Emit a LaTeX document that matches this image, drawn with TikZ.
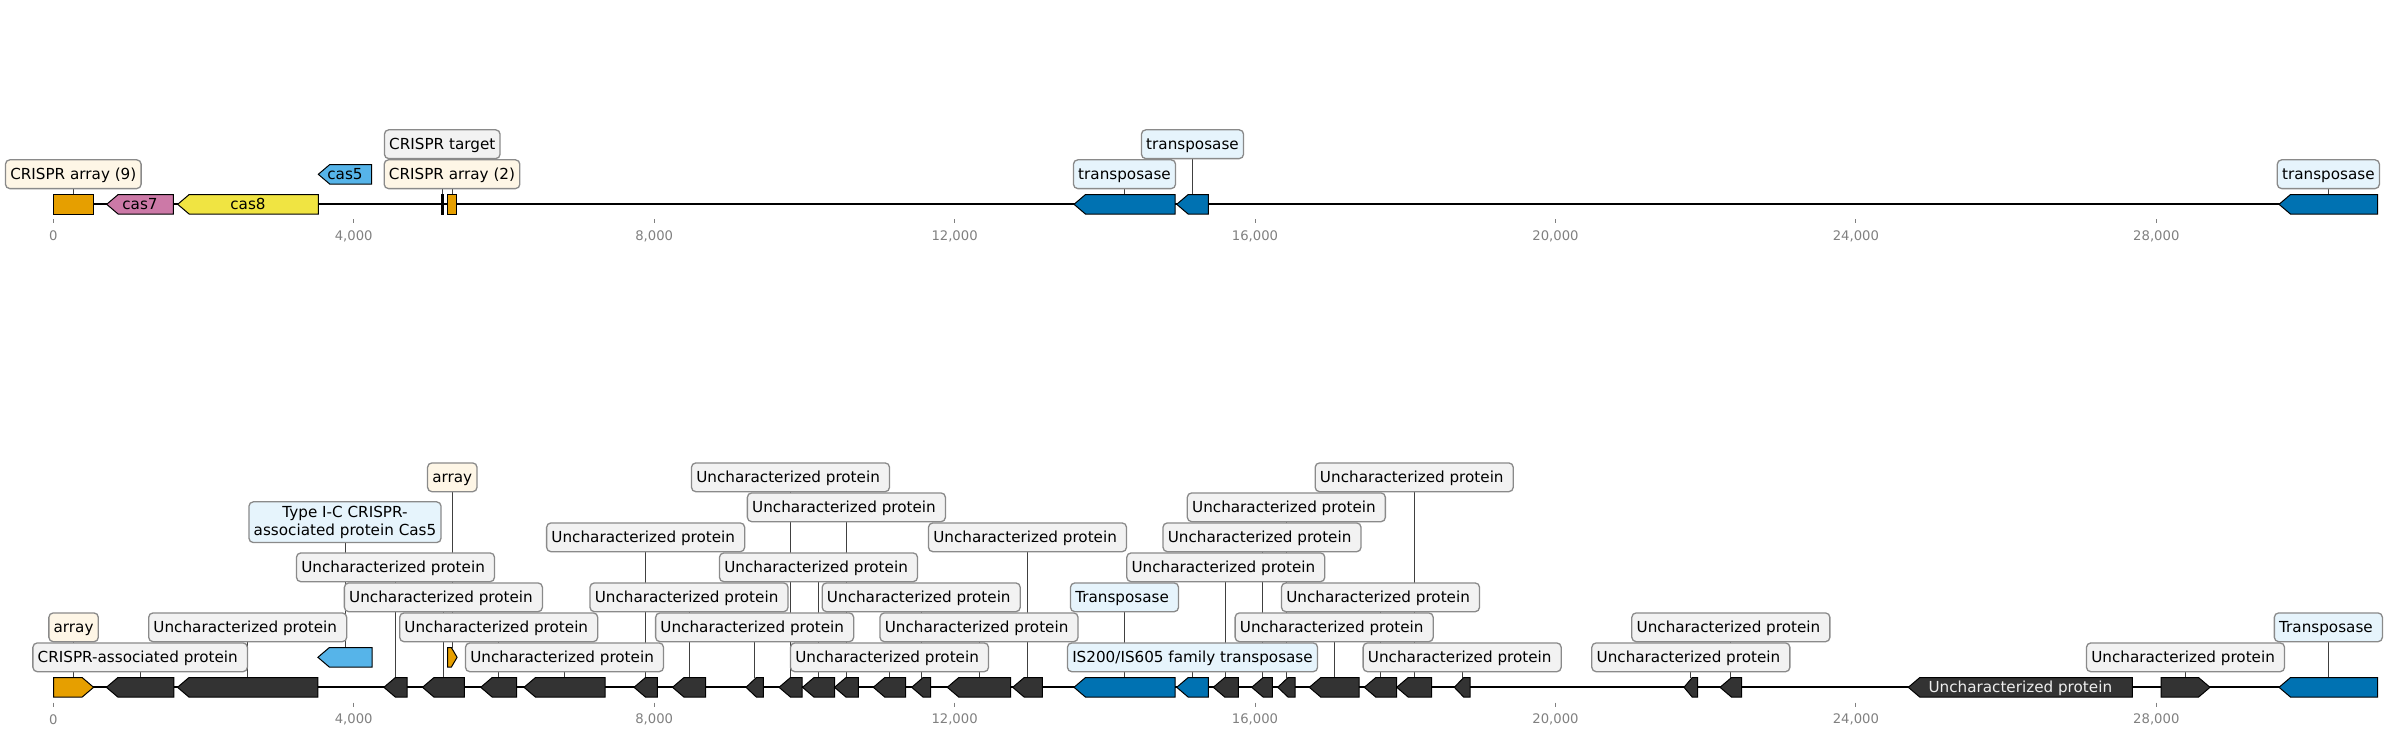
\documentclass[tikz,border=0pt]{standalone}
\usepackage{fontspec}
\setmainfont{DejaVu Sans}
\pgfdeclarelayer{bg}
\pgfsetlayers{bg,main}
\definecolor{corange}{HTML}{E69F00}
\definecolor{cpink}{HTML}{CC79A7}
\definecolor{cyellow}{HTML}{F0E442}
\definecolor{csky}{HTML}{56B4E9}
\definecolor{cblue}{HTML}{0072B2}
\definecolor{cdark}{HTML}{333333}
\definecolor{fcream}{HTML}{FEF6E6}
\definecolor{fblue}{HTML}{E6F4FC}
\definecolor{fgray}{HTML}{F2F2F2}
\definecolor{edgegray}{HTML}{8A8A8A}
\definecolor{tickgray}{HTML}{808080}
\definecolor{conngray}{HTML}{404040}
\definecolor{inwhite}{HTML}{EEEEEE}
\newcommand\labfont{\fontsize{7.6pt}{8.75pt}\selectfont}
\newcommand\tickfont{\fontsize{6.6pt}{7.9pt}\selectfont}
\newcommand\UP{Uncharacterized protein\kern0.318em}
\newcommand\geneL[5]{%
  \pgfmathsetmacro\ghl{min(11.5,0.6*(#3-#2))}%
  \draw[genebody,fill=#5] (#2,#4) -- ({#2+\ghl},{#4-9.8}) -- (#3,{#4-9.8}) -- (#3,{#4+9.8}) -- ({#2+\ghl},{#4+9.8}) -- cycle;
  \coordinate (#1) at ({(#2+#3)/2},{#4-9.8});}
\newcommand\geneR[5]{%
  \pgfmathsetmacro\ghl{min(11.5,0.6*(#3-#2))}%
  \draw[genebody,fill=#5] (#2,{#4-9.8}) -- ({#3-\ghl},{#4-9.8}) -- (#3,#4) -- ({#3-\ghl},{#4+9.8}) -- (#2,{#4+9.8}) -- cycle;
  \coordinate (#1) at ({(#2+#3)/2},{#4-9.8});}
\newcommand\geneN[5]{%
  \draw[genebody,fill=#5] (#2,{#4-9.8}) rectangle (#3,{#4+9.8});
  \coordinate (#1) at ({(#2+#3)/2},{#4-9.8});}
\newcommand\lab[5]{%
  \node[labbox,fill=#4] (#1) at (#2 |- 0,#3) {#5};
  \begin{pgfonlayer}{bg}\draw[conn] (#1.south) -- (#2);\end{pgfonlayer}}
\begin{document}
\begin{tikzpicture}[x=0.5pt,y=-0.5pt,
  genebody/.style={draw=black,line width=0.5pt,line join=miter},
  labcore/.style={draw=edgegray,line width=0.65pt,rounded corners=2.2pt,inner xsep=2.4pt,inner ysep=2.2pt,font=\labfont,text=black},
  labbox/.style={labcore,text height=0.76em,text depth=0.24em},
  conn/.style={draw=conngray,line width=0.5pt},
  track/.style={draw=black,line width=1.1pt},
  tickmark/.style={draw=tickgray,line width=0.5pt},
  ticklab/.style={font=\tickfont,text=tickgray,inner sep=0pt},
  inlab/.style={font=\labfont,inner sep=0pt,text height=0.76em,text depth=0.24em}]
\useasboundingbox (0,0) rectangle (2388,736);
% ---------------- top track ----------------
\coordinate (tl0) at (53.3,204.3);
\coordinate (tl1) at (2377.7,204.3);
\draw[track] (tl0) -- (tl1);
\geneN{tA}{53.3}{93.3}{204.3}{corange}
\geneL{tB}{106.7}{173.3}{204.3}{cpink}
\geneL{tC}{177.7}{318.3}{204.3}{cyellow}
\geneL{tD}{318.3}{371.7}{174.3}{csky}
\geneN{tE}{441}{443.5}{204.3}{black}
\geneN{tF}{447.3}{456.7}{204.3}{corange}
\geneL{tG}{1074}{1175}{204.3}{cblue}
\geneL{tH}{1176.7}{1208.3}{204.3}{cblue}
\geneL{tI}{2279}{2377.7}{204.3}{cblue}
\node[inlab] (icas7) at (140,204.3) {cas7};
\node[inlab] (icas8) at (248,204.3) {cas8};
\node[inlab] (icas5) at (345,174.3) {cas5};
\lab{ltA}{tA}{174.2}{fcream}{CRISPR array (9)}
\lab{ltE}{tE}{144.2}{fgray}{CRISPR target}
\lab{ltF}{tF}{174.2}{fcream}{CRISPR array (2)}
\lab{ltG}{tG}{174.2}{fblue}{transposase}
\lab{ltH}{tH}{144.2}{fblue}{transposase}
\lab{ltI}{tI}{174.2}{fblue}{transposase}
\foreach \k/\t in {0/0,1/{4,000},2/{8,000},3/{12,000},4/{16,000},5/{20,000},6/{24,000},7/{28,000}}{
  \draw[tickmark] ({53.3+300.43*\k},219.3) -- ({53.3+300.43*\k},223.3);
  \node[ticklab] (tt\k) at ({53.3+300.43*\k},236) {\t};
  \draw[tickmark] ({53.3+300.43*\k},702.7) -- ({53.3+300.43*\k},706.7);
  \node[ticklab] (bt\k) at ({53.3+300.43*\k},719.3) {\t};
}
% ---------------- bottom track ----------------
\coordinate (bl0) at (53.3,687.3);
\coordinate (bl1) at (2377.7,687.3);
\draw[track] (bl0) -- (bl1);
\geneR{bA}{53.6}{93.6}{687.3}{corange}
\geneL{bB}{106.4}{173.9}{687.3}{cdark}
\geneL{bC}{177.5}{317.9}{687.3}{cdark}
\geneL{bD}{317.9}{372.1}{657.3}{csky}
\geneL{bE}{383.9}{407.1}{687.3}{cdark}
\geneL{bF}{422.5}{464.3}{687.3}{cdark}
\geneR{bG}{447.5}{457.1}{657.3}{corange}
\geneL{bH}{480.7}{516.7}{687.3}{cdark}
\geneL{bI}{524}{605}{687.3}{cdark}
\geneL{bJ}{634}{657.3}{687.3}{cdark}
\geneL{bK}{672.5}{705.5}{687.3}{cdark}
\geneL{bL}{746}{763.3}{687.3}{cdark}
\geneL{bM}{779}{802}{687.3}{cdark}
\geneL{bN}{802.5}{834.5}{687.3}{cdark}
\geneL{bO}{834.5}{858.3}{687.3}{cdark}
\geneL{bP}{873.3}{905.7}{687.3}{cdark}
\geneL{bQ}{911.7}{930.7}{687.3}{cdark}
\geneL{bR}{947.3}{1010.7}{687.3}{cdark}
\geneL{bS}{1012.7}{1042.3}{687.3}{cdark}
\geneL{bT}{1074}{1175}{687.3}{cblue}
\geneL{bU}{1176.7}{1208.3}{687.3}{cblue}
\geneL{bV}{1213.3}{1238.3}{687.3}{cdark}
\geneL{bW}{1251.7}{1272.3}{687.3}{cdark}
\geneL{bX}{1277.7}{1295}{687.3}{cdark}
\geneL{bY}{1309.3}{1359}{687.3}{cdark}
\geneL{bZ}{1364.3}{1396.7}{687.3}{cdark}
\geneL{bAA}{1396.7}{1431.7}{687.3}{cdark}
\geneL{bAB}{1454.3}{1470}{687.3}{cdark}
\geneL{bAC}{1684}{1697.7}{687.3}{cdark}
\geneL{bAD}{1720}{1741.7}{687.3}{cdark}
\geneL{bAE}{1908.3}{2132.3}{687.3}{cdark}
\geneR{bAF}{2161}{2210}{687.3}{cdark}
\geneL{bAG}{2279}{2377.7}{687.3}{cblue}
\node[inlab,text=inwhite] (ibAE) at (2020.3,687.3) {Uncharacterized protein};
\lab{lbA}{bA}{627.3}{fcream}{array}
\lab{lbB}{bB}{657.3}{fgray}{CRISPR-associated protein\kern0.318em}
\lab{lbC}{bC}{627.3}{fgray}{\UP}
\node[labcore,align=center,fill=fblue] (lbD) at (bD |- 0,522.2) {Type I-C CRISPR-\\associated protein Cas5};
\begin{pgfonlayer}{bg}\draw[conn] (lbD.south) -- (bD);\end{pgfonlayer}
\lab{lbE}{bE}{567.3}{fgray}{\UP}
\lab{lbF}{bF}{597.3}{fgray}{\UP}
\lab{lbG}{bG}{477.3}{fcream}{array}
\lab{lbH}{bH}{627.3}{fgray}{\UP}
\lab{lbI}{bI}{657.3}{fgray}{\UP}
\lab{lbJ}{bJ}{537.3}{fgray}{\UP}
\lab{lbK}{bK}{597.3}{fgray}{\UP}
\lab{lbL}{bL}{627.3}{fgray}{\UP}
\lab{lbM}{bM}{477.3}{fgray}{\UP}
\lab{lbN}{bN}{567.3}{fgray}{\UP}
\lab{lbO}{bO}{507.3}{fgray}{\UP}
\lab{lbP}{bP}{657.3}{fgray}{\UP}
\lab{lbQ}{bQ}{597.3}{fgray}{\UP}
\lab{lbR}{bR}{627.3}{fgray}{\UP}
\lab{lbS}{bS}{537.3}{fgray}{\UP}
\lab{lbT}{bT}{597.3}{fblue}{Transposase\kern0.318em}
\lab{lbU}{bU}{657.3}{fblue}{IS200/IS605 family transposase}
\lab{lbV}{bV}{567.3}{fgray}{\UP}
\lab{lbW}{bW}{537.3}{fgray}{\UP}
\lab{lbX}{bX}{507.3}{fgray}{\UP}
\lab{lbY}{bY}{627.3}{fgray}{\UP}
\lab{lbZ}{bZ}{597.3}{fgray}{\UP}
\lab{lbAA}{bAA}{477.3}{fgray}{\UP}
\lab{lbAB}{bAB}{657.3}{fgray}{\UP}
\lab{lbAC}{bAC}{657.3}{fgray}{\UP}
\lab{lbAD}{bAD}{627.3}{fgray}{\UP}
\lab{lbAF}{bAF}{657.3}{fgray}{\UP}
\lab{lbAG}{bAG}{627.3}{fblue}{Transposase\kern0.318em}
\end{tikzpicture}
\end{document}
